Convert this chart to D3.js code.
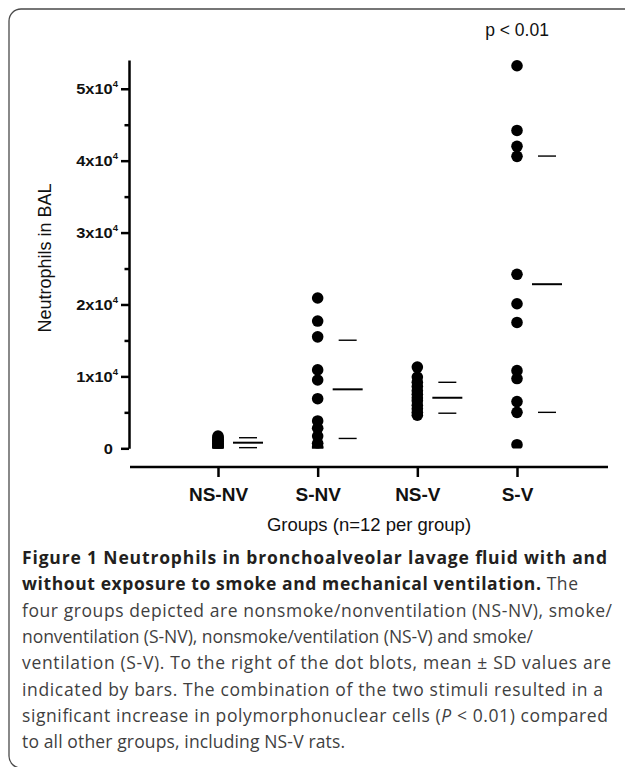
<!DOCTYPE html>
<html>
<head>
<meta charset="utf-8">
<script src="https://cdn.jsdelivr.net/npm/d3@7/dist/d3.min.js"></script>
<style>
  body { margin: 0; background: #fff; }
  svg { display: block; }
</style>
</head>
<body>
<div id="chart"></div>
<script>
// groups and the 12 animals per group (neutrophils in BAL)
const groups = ['NS-NV', 'S-NV', 'NS-V', 'S-V'];
const nsnv = [1700, 1500, 1300, 1200, 1000, 900, 700, 600, 400, 300, 100, 0];
const snv = [20900, 17700, 15500, 10900, 9500, 6900, 3800, 2800, 1700, 700, 200, 0];
const nsv = [11300, 9900, 9200, 8600, 8000, 7500, 7000, 6600, 6000, 5500, 5000, 4600];
const sv = [53200, 44200, 42000, 40600, 24200, 20100, 17500, 10800, 9700, 6500, 5000, 500];
const means = [780, 8200, 7030, 22820];
const sds = [690, 6830, 2150, 17820];
const majorTicks = [0, 10000, 20000, 30000, 40000, 50000];
const minorTicks = [5000, 15000, 25000, 35000, 45000];
const tickMantissa = ['0', '1x10', '2x10', '3x10', '4x10', '5x10'];
const tickExponent = ['', '4', '4', '4', '4', '4'];
const captionLines = [
  [['Figure 1 Neutrophils in bronchoalveolar lavage fluid with and', 'b']],
  [['without exposure to smoke and mechanical ventilation.', 'b'], [' The', 'r']],
  [['four groups depicted are nonsmoke/nonventilation (NS-NV), smoke/', 'r']],
  [['nonventilation (S-NV), nonsmoke/ventilation (NS-V) and smoke/', 'r']],
  [['ventilation (S-V). To the right of the dot blots, mean \u00b1 SD values are', 'r']],
  [['indicated by bars. The combination of the two stimuli resulted in a', 'r']],
  [['significant increase in polymorphonuclear cells (', 'r'], ['P', 'i'], [' < 0.01) compared', 'r']],
  [['to all other groups, including NS-V rats.', 'r']]
];
// where each caption line ends in the original (ragged right)
const captionRight = [607, 578, 612, 533, 611, 603, 608, 345];

const series = [nsnv, snv, nsv, sv];
const W = 625, H = 767;

const svg = d3.select('#chart').append('svg')
  .attr('width', W)
  .attr('height', H);

// frame round the figure
svg.append('rect')
  .attr('x', 9).attr('y', 9)
  .attr('width', 640).attr('height', 759)
  .attr('rx', 12)
  .attr('fill', 'none')
  .attr('stroke', '#4a4a4a')
  .attr('stroke-width', 1.3);

const y = d3.scaleLinear().domain([0, 54000]).range([448.3, 60]);
const x = d3.scalePoint().domain(groups).range([218, 517]);

const font = 'Liberation Sans, Arial, sans-serif';

// y axis
const yAxis = svg.append('g')
  .attr('transform', 'translate(129,0)')
  .call(d3.axisLeft(y).tickValues(majorTicks).tickSize(8).tickSizeOuter(0).tickFormat(''));
yAxis.select('.domain').attr('stroke-width', 2.5);
yAxis.selectAll('.tick line').attr('stroke-width', 2.5);

const yMinor = svg.append('g')
  .attr('transform', 'translate(129,0)')
  .call(d3.axisLeft(y).tickValues(minorTicks).tickSize(4.5).tickFormat(''));
yMinor.select('.domain').remove();
yMinor.selectAll('.tick line').attr('stroke-width', 2.5);

// tick labels, bold and a bit wide like the original
const lab = svg.append('g').selectAll('g')
  .data(majorTicks)
  .enter().append('g')
  .attr('transform', (d, i) => 'translate(' + (i === 0 ? 113 : 118) + ',' + (y(d) + 5.5) + ') scale(1.06,1)');
const labText = lab.append('text')
  .attr('text-anchor', 'end')
  .attr('font-family', font)
  .attr('font-weight', 'bold')
  .attr('font-size', 15.5)
  .attr('fill', '#111');
labText.append('tspan').text((d, i) => tickMantissa[i]);
labText.append('tspan')
  .attr('font-size', 9)
  .attr('dy', -7)
  .text((d, i) => tickExponent[i]);

// x axis
svg.append('line')
  .attr('x1', 130).attr('x2', 608)
  .attr('y1', 467).attr('y2', 467)
  .attr('stroke', '#000')
  .attr('stroke-width', 2.5);

const xAxis = svg.append('g')
  .attr('transform', 'translate(0,467)')
  .call(d3.axisBottom(x).tickSize(10).tickSizeOuter(0).tickPadding(11));
xAxis.select('.domain').remove();
xAxis.selectAll('.tick line').attr('stroke-width', 2.5);
xAxis.selectAll('.tick text')
  .attr('font-family', font)
  .attr('font-weight', 'bold')
  .attr('font-size', 19)
  .attr('fill', '#111');

svg.append('text')
  .attr('x', 369).attr('y', 531)
  .attr('text-anchor', 'middle')
  .attr('font-family', font)
  .attr('font-size', 18.5)
  .attr('fill', '#111')
  .text('Groups (n=12 per group)');

svg.append('text')
  .attr('transform', 'translate(51,258) rotate(-90)')
  .attr('text-anchor', 'middle')
  .attr('font-family', font)
  .attr('font-size', 18)
  .attr('fill', '#111')
  .text('Neutrophils in BAL');

svg.append('text')
  .attr('x', x('S-V')).attr('y', 36)
  .attr('text-anchor', 'middle')
  .attr('font-family', font)
  .attr('font-size', 17.5)
  .attr('fill', '#111')
  .text('p < 0.01');

// dots are cut at the zero line
svg.append('clipPath').attr('id', 'clip')
  .append('rect')
  .attr('x', 130).attr('y', 0)
  .attr('width', 500).attr('height', y(0) + 0.2);

const plot = svg.append('g').attr('clip-path', 'url(#clip)');

series.forEach(function(vals, gi) {
  plot.selectAll('circle.g' + gi)
    .data(vals)
    .enter()
    .append('circle')
    .attr('class', 'g' + gi)
    .attr('cx', x(groups[gi]))
    .attr('cy', d => y(d))
    .attr('r', 5.8)
    .attr('fill', '#000');
});

// mean and +/- SD bars to the right of each column
const bars = svg.append('g');
groups.forEach(function(g, i) {
  const cx = x(g);
  bars.append('line')
    .attr('x1', cx + 15).attr('x2', cx + 45)
    .attr('y1', y(means[i])).attr('y2', y(means[i]))
    .attr('stroke', '#000').attr('stroke-width', 2);
  [means[i] + sds[i], means[i] - sds[i]].forEach(function(v) {
    bars.append('line')
      .attr('x1', cx + 21).attr('x2', cx + 39)
      .attr('y1', y(Math.max(v, 0))).attr('y2', y(Math.max(v, 0)))
      .attr('stroke', '#000').attr('stroke-width', 1.4);
  });
});

// caption
const cap = svg.append('g')
  .attr('font-family', 'Open Sans, Noto Sans, sans-serif')
  .attr('font-size', 17.5);
captionLines.forEach(function(parts, li) {
  const t = cap.append('text')
    .attr('x', 22)
    .attr('y', 564 + li * 26.3)
    .attr('textLength', captionRight[li] - 22)
    .attr('lengthAdjust', 'spacing');
  parts.forEach(function(p) {
    t.append('tspan')
      .attr('font-weight', p[1] === 'b' ? 'bold' : 'normal')
      .attr('font-style', p[1] === 'i' ? 'italic' : 'normal')
      .attr('fill', p[1] === 'b' ? '#231f20' : '#3f3f3f')
      .text(p[0]);
  });
});
</script>
</body>
</html>
